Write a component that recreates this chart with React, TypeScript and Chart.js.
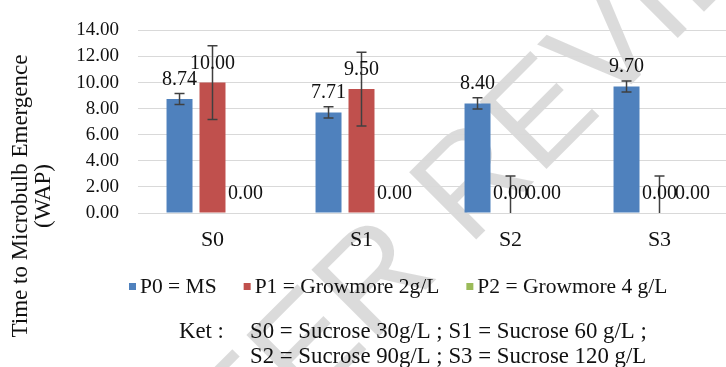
import React, { useEffect, useRef } from "react";
import { Chart, registerables } from "chart.js";

Chart.register(...registerables);

const categories = ["S0", "S1", "S2", "S3"];
const seriesNames = ["P0 = MS", "P1 = Growmore 2g/L", "P2 = Growmore 4 g/L"];
const seriesColors = ["#4f81bd", "#c0504d", "#9bbb59"];
const p0Values = [8.74, 7.71, 8.4, 9.7];
const p1Values = [10.0, 9.5, 0.0, 0.0];
const p2Values = [0.0, 0.0, 0.0, 0.0];
const p0Errors = [0.43, 0.43, 0.43, 0.43];
const p1Errors = [2.83, 2.83, 2.83, 2.83];
const p2Errors = [0, 0, 0, 0];
const yMin = 0;
const yMax = 14;
const yStep = 2;
const yTitleLines = ["Time to Microbulb Emergence", "(WAP)"];
const noteLabel = "Ket :";
const noteLines = [
  "S0 = Sucrose 30g/L ; S1 = Sucrose 60 g/L ;",
  "S2 = Sucrose 90g/L ; S3 = Sucrose 120 g/L",
];
const watermarkText = "PEER REVIEW";

const SERIF = '"Liberation Serif", "Times New Roman", serif';
const SANS = '"Liberation Sans", Arial, sans-serif';

const errorBarsPlugin = {
  id: "errorBars",
  afterDatasetsDraw(chart: any) {
    const ctx = chart.ctx;
    const yScale = chart.scales.y;
    const area = chart.chartArea;
    ctx.save();
    ctx.strokeStyle = "#404040";
    ctx.lineWidth = 1.5;
    chart.data.datasets.forEach((ds: any, di: number) => {
      const errs: number[] = ds.errors || [];
      const meta = chart.getDatasetMeta(di);
      meta.data.forEach((bar: any, i: number) => {
        const e = errs[i];
        if (!e) return;
        const v = ds.data[i];
        const x = bar.x;
        const yTop = yScale.getPixelForValue(v + e);
        let yBot = yScale.getPixelForValue(v - e);
        const clipped = yBot > area.bottom;
        if (clipped) yBot = area.bottom;
        const cap = 5;
        ctx.beginPath();
        ctx.moveTo(x, yTop);
        ctx.lineTo(x, yBot);
        ctx.moveTo(x - cap, yTop);
        ctx.lineTo(x + cap, yTop);
        if (!clipped) {
          ctx.moveTo(x - cap, yBot);
          ctx.lineTo(x + cap, yBot);
        }
        ctx.stroke();
      });
    });
    ctx.restore();
  },
};

const valueLabelsPlugin = {
  id: "valueLabels",
  afterDatasetsDraw(chart: any) {
    const ctx = chart.ctx;
    ctx.save();
    ctx.font = `20px ${SERIF}`;
    ctx.fillStyle = "#111";
    ctx.textAlign = "center";
    ctx.textBaseline = "alphabetic";
    chart.data.datasets.forEach((ds: any, di: number) => {
      const meta = chart.getDatasetMeta(di);
      meta.data.forEach((bar: any, i: number) => {
        const v = ds.data[i];
        ctx.fillText(v.toFixed(2), bar.x, bar.y - 14);
      });
    });
    ctx.restore();
  },
};

const decorPlugin = {
  id: "decor",
  beforeDraw(chart: any) {
    const ctx = chart.ctx;
    ctx.save();
    ctx.font = `138px ${SANS}`;
    ctx.fillStyle = "rgba(0,0,0,0.14)";
    const q = 468;
    const pre = ctx.measureText("PEER ").width;
    const p0 = 156 - pre;
    const x = (p0 + q) / Math.SQRT2;
    const y = (q - p0) / Math.SQRT2;
    ctx.translate(x, y);
    ctx.rotate(-Math.PI / 4);
    ctx.textBaseline = "middle";
    ctx.textAlign = "left";
    ctx.fillText(watermarkText, 0, 0);
    ctx.restore();
  },
  afterDraw(chart: any) {
    const ctx = chart.ctx;
    ctx.save();
    // y-axis title
    ctx.fillStyle = "#111";
    ctx.font = `23px ${SERIF}`;
    ctx.textAlign = "center";
    ctx.textBaseline = "alphabetic";
    const baselines = [27, 50];
    yTitleLines.forEach((t, i) => {
      ctx.save();
      ctx.translate(baselines[i], 196);
      ctx.rotate(-Math.PI / 2);
      ctx.fillText(t, 0, 0);
      ctx.restore();
    });
    // legend
    ctx.font = `21.5px ${SERIF}`;
    ctx.textAlign = "left";
    let lx = 129;
    const legendBase = 293;
    chart.data.datasets.forEach((ds: any) => {
      ctx.fillStyle = ds.backgroundColor;
      ctx.fillRect(lx, 283, 7, 7);
      ctx.fillStyle = "#111";
      ctx.fillText(ds.label, lx + 11, legendBase);
      lx += 11 + ctx.measureText(ds.label).width + 27;
    });
    // note
    ctx.font = `22.8px ${SERIF}`;
    ctx.fillText(noteLabel, 179, 338);
    ctx.fillText(noteLines[0], 250, 338);
    ctx.fillText(noteLines[1], 250, 363);
    ctx.restore();
  },
};

export default function App() {
  const ref = useRef<HTMLCanvasElement | null>(null);
  useEffect(() => {
    if (!ref.current) return;
    const values = [p0Values, p1Values, p2Values];
    const errors = [p0Errors, p1Errors, p2Errors];
    const chart = new Chart(ref.current, {
      type: "bar",
      data: {
        labels: categories,
        datasets: seriesNames.map((name, i) => ({
          label: name,
          data: values[i],
          errors: errors[i],
          backgroundColor: seriesColors[i],
          borderWidth: 0,
          categoryPercentage: 0.664,
          barPercentage: 0.788,
        })) as any,
      },
      options: {
        animation: false,
        responsive: false,
        layout: { padding: { top: 23, left: 0, right: 6, bottom: 109 } },
        plugins: { legend: { display: false }, tooltip: { enabled: false } },
        scales: {
          x: {
            grid: { display: false, drawTicks: false },
            border: { display: false },
            ticks: { font: { family: SERIF, size: 22 }, color: "#111", padding: 14 },
            afterFit: (s: any) => {
              s.height = 45;
            },
          },
          y: {
            min: yMin,
            max: yMax,
            ticks: {
              stepSize: yStep,
              callback: (v: any) => Number(v).toFixed(2),
              font: { family: SERIF, size: 19 },
              color: "#111",
              padding: 19,
            },
            grid: { color: "#d9d9d9", drawTicks: false, lineWidth: 1 },
            border: { display: false },
            afterFit: (s: any) => {
              s.width = 138;
            },
          },
        },
      },
      plugins: [decorPlugin, errorBarsPlugin, valueLabelsPlugin],
    });
    return () => chart.destroy();
  }, []);
  return (
    <div
      style={{
        position: "absolute",
        left: 0,
        top: 0,
        width: 726,
        height: 367,
        overflow: "hidden",
        background: "#fff",
      }}
    >
      <canvas ref={ref} width={740} height={367} style={{ width: 740, height: 367, display: "block" }} />
    </div>
  );
}
